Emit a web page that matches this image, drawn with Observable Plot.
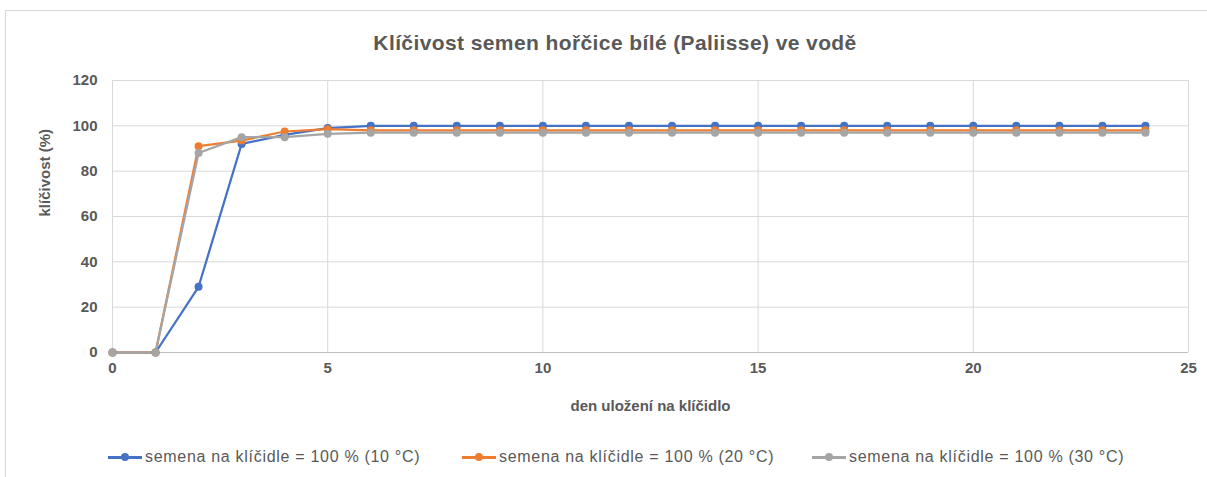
<!DOCTYPE html>
<html>
<head>
<meta charset="utf-8">
<script src="https://cdn.jsdelivr.net/npm/d3@7"></script>
<script src="https://cdn.jsdelivr.net/npm/@observablehq/plot@0.6"></script>
<style>
  html, body { margin: 0; padding: 0; background: #fff; }
  body { width: 1207px; height: 477px; position: relative; overflow: hidden; font-family: "Liberation Sans", sans-serif; }
  #frame { position: absolute; left: 5px; top: 10px; width: 1300px; height: 600px; border-top: 1px solid #d9d9d9; border-left: 1px solid #d9d9d9; }
  #title { position: absolute; left: 0; width: 1230px; top: 31px; text-align: center; font-family: "Liberation Sans", sans-serif; font-weight: bold; font-size: 21px; letter-spacing: 0.4px; color: #595959; }
  #chart { position: absolute; left: 0; top: 62px; }
  #legend { position: absolute; top: 447px; left: 0; width: 1207px; height: 20px; }
  .item { position: absolute; top: 0; height: 20px; display: flex; align-items: center; font-size: 16px; letter-spacing: 0.7px; color: #595959; white-space: nowrap; }
  .sw { position: relative; width: 34px; height: 20px; margin-right: 3px; }
  .sw .ln { position: absolute; left: 0; right: 0; top: 9px; height: 2.5px; }
  .sw .dot { position: absolute; left: 13px; top: 6px; width: 8px; height: 8px; border-radius: 50%; }
</style>
</head>
<body>
<div id="frame"></div>
<div id="title">Klíčivost semen hořčice bílé (Paliisse) ve vodě</div>
<div id="chart"></div>
<div id="legend"></div>
<script>
const days = [0,1,2,3,4,5,6,7,8,9,10,11,12,13,14,15,16,17,18,19,20,21,22,23,24];
const s10 = [0,0,29,92,96,99,100,100,100,100,100,100,100,100,100,100,100,100,100,100,100,100,100,100,100];
const s20 = [0,0,91,93.5,97.5,98.5,98,98,98,98,98,98,98,98,98,98,98,98,98,98,98,98,98,98,98];
const s30 = [0,0,88,95,95,96.5,97,97,97,97,97,97,97,97,97,97,97,97,97,97,97,97,97,97,97];
const seriesNames = ["semena na klíčidle = 100 % (10 °C)", "semena na klíčidle = 100 % (20 °C)", "semena na klíčidle = 100 % (30 °C)"];
const seriesColors = ["#4472C4", "#ED7D31", "#A5A5A5"];
const xTicks = [0,5,10,15,20,25];
const yTicks = [0,20,40,60,80,100,120];
const xLabel = "den uložení na klíčidlo";
const yLabel = "klíčivost (%)";

const allSeries = [s10, s20, s30];
const rows = [];
allSeries.forEach((vals, si) => days.forEach((d, i) => rows.push({day: d, value: vals[i], series: seriesNames[si]})));

const txt = {fill: "#595959", fontWeight: "bold", fontSize: 15, fontFamily: "Liberation Sans, sans-serif"};

const chart = Plot.plot({
  width: 1207,
  height: 363,
  marginLeft: 112,
  marginRight: 19,
  marginTop: 18,
  marginBottom: 73,
  style: {background: "transparent", overflow: "visible"},
  x: {domain: [0, 25], ticks: xTicks},
  y: {domain: [0, 120], ticks: yTicks},
  color: {domain: seriesNames, range: seriesColors},
  marks: [
    Plot.gridX(xTicks, {stroke: "#d9d9d9", strokeOpacity: 1, strokeWidth: 1}),
    Plot.gridY(yTicks, {stroke: "#d9d9d9", strokeOpacity: 1, strokeWidth: 1}),
    Plot.ruleY([0], {stroke: "#bfbfbf", strokeWidth: 1.2}),
    Plot.axisX(xTicks, {tickSize: 0, tickPadding: 10, label: null, ...txt}),
    Plot.axisY(yTicks, {tickSize: 0, tickPadding: 15, label: null, ...txt}),
    Plot.text([xLabel], {frameAnchor: "bottom", dy: 58, text: d => d, ...txt}),
    Plot.text([yLabel], {frameAnchor: "left", dx: -67, rotate: -90, text: d => d, ...txt}),
    Plot.line(rows, {x: "day", y: "value", z: "series", stroke: "series", strokeWidth: 2.25, curve: "linear"}),
    Plot.dot(rows, {x: "day", y: "value", fill: "series", r: 4, stroke: "none"})
  ]
});
document.getElementById("chart").appendChild(chart);

const legendPos = [108, 462, 812];
const legend = document.getElementById("legend");
seriesNames.forEach((name, i) => {
  const item = document.createElement("div");
  item.className = "item";
  item.style.left = legendPos[i] + "px";
  item.innerHTML = `<div class="sw"><div class="ln" style="background:${seriesColors[i]}"></div><div class="dot" style="background:${seriesColors[i]}"></div></div><span>${name}</span>`;
  legend.appendChild(item);
});
</script>
</body>
</html>
